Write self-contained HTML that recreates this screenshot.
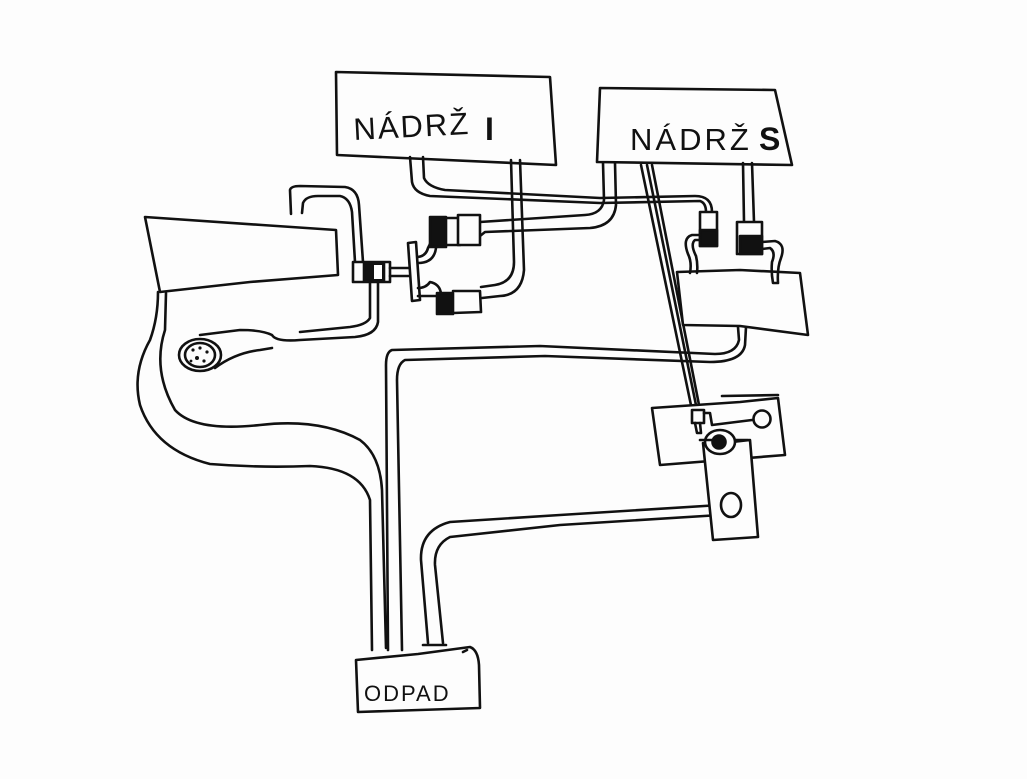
<!DOCTYPE html>
<html><head><meta charset="utf-8"><style>
html,body{margin:0;padding:0;background:#fdfdfd;}
svg{display:block}
text{font-family:"Liberation Sans",sans-serif;fill:#111}
</style></head><body>
<svg width="1027" height="779" viewBox="0 0 1027 779" xmlns="http://www.w3.org/2000/svg">
<rect width="1027" height="779" fill="#fdfdfd"/>
<g fill="none" stroke="#111" stroke-width="2.6" stroke-linecap="round" stroke-linejoin="round">
<path d="M336,72 L550,77 L556,165 L337,155 Z" fill="#fdfdfd"/>
<path d="M600,88 L775,90 L792,165 L597,162 Z" fill="#fdfdfd"/>
<path d="M410,157 L412,182 Q414,193 430,196 L600,203 L700,201 Q706,203 706,212"/>
<path d="M423,157 L424,178 Q428,187 445,190 L600,198 L695,196 Q712,196 712,212"/>
<path d="M603,163 L604,200 Q602,214 585,215 L480,222"/>
<path d="M615,163 L616,205 Q614,226 590,228 L485,232 L480,236"/>
<path d="M511,160 L514,262 Q514,282 495,285 L481,287"/>
<path d="M520,160 L524,270 Q522,295 500,296 L482,298"/>
<path d="M641,165 L692,410"/>
<path d="M647,165 L697,410"/>
<path d="M652,165 L700,410"/>
<path d="M743,163 L744,222"/>
<path d="M752,163 L754,222"/>
<path d="M145,217 L262,225 L336,230 L338,275 L250,282 L160,292 Z" fill="#fdfdfd"/>
<path d="M291,214 L290,190 Q291,186 300,186 L345,187 Q358,189 359,205 L363,262"/>
<path d="M302,213 L303,203 Q306,196 318,196 L340,196 Q350,198 352,212 L355,262"/>
<rect x="353" y="262" width="37" height="20" fill="#fdfdfd"/>
<rect x="364" y="263" width="20" height="18" fill="#111"/>
<rect x="374" y="265" width="8" height="14" fill="#fdfdfd" stroke="none"/>
<path d="M390,268 L412,268 M390,276 L412,276"/>
<path d="M408,243 L416,242 L420,300 L412,301 Z" fill="#fdfdfd"/>
<path d="M418,257 Q426,256 428,248 L431,242 M418,263 Q434,263 436,248"/>
<rect x="430" y="217" width="16" height="30" fill="#111"/>
<path d="M446,218 L460,218 L460,245 L446,245"/>
<rect x="458" y="215" width="22" height="30" fill="#fdfdfd"/>
<path d="M418,288 Q426,288 430,282 Q440,284 441,294 M418,296 L436,296"/>
<rect x="437" y="293" width="16" height="21" fill="#111"/>
<path d="M453,291 L480,291 L481,312 L453,313"/>
<path d="M378,282 L378,322 Q376,335 355,337 L300,340 Q276,342 272,335 Q262,330 240,330 L200,335"/>
<path d="M370,282 L370,318 Q366,325 350,327 L300,332"/>
<path d="M272,348 L260,350 Q235,353 215,368"/>
<ellipse cx="200" cy="355" rx="21" ry="16"/>
<ellipse cx="200" cy="355" rx="15" ry="12"/>
<g fill="#111" stroke="none"><circle cx="193" cy="350" r="1.6"/><circle cx="200" cy="348" r="1.6"/><circle cx="207" cy="352" r="1.6"/><circle cx="197" cy="358" r="2"/><circle cx="204" cy="361" r="1.6"/><circle cx="191" cy="361" r="1.4"/></g>
<path d="M158,292 Q158,318 150,340 Q132,372 140,405 Q155,450 210,464 Q260,468 310,466 Q360,468 370,500 L372,650"/>
<path d="M166,293 L165,330 Q152,370 175,410 Q195,432 260,425 Q320,418 360,440 Q380,455 382,490 L386,648"/>
<path d="M738,327 L739,340 Q736,354 715,354 L540,346 L392,350 Q386,352 386,365 L388,650"/>
<path d="M746,327 L745,345 Q742,362 710,362 L545,356 L405,360 Q397,364 397,380 L402,650"/>
<path d="M720,505 L560,515 L450,522 Q420,530 421,560 L428,643"/>
<path d="M720,515 L560,525 L450,537 Q434,545 435,565 L443,643"/>
<path d="M423,645 L446,645"/>
<path d="M356,660 L418,654 L470,647 Q478,650 479,665 L480,708 L358,712 Z" fill="#fdfdfd"/>
<path d="M463,652 L467,650"/>
<path d="M677,272 L740,270 L800,273 L808,335 L740,326 L683,325 Z" fill="#fdfdfd"/>
<rect x="700" y="212" width="17" height="34" fill="#fdfdfd"/>
<rect x="700" y="230" width="17" height="16" fill="#111"/>
<path d="M700,235 L692,235 Q682,238 688,254 Q692,262 690,273 M700,240 L695,240 Q690,244 696,256 Q698,264 697,273"/>
<rect x="737" y="222" width="25" height="32" fill="#fdfdfd"/>
<rect x="740" y="236" width="22" height="18" fill="#111"/>
<path d="M762,242 L775,241 Q786,244 781,258 Q777,268 778,283 M762,249 L770,248 Q776,252 772,262 Q771,272 773,283 L778,283"/>
<path d="M652,408 L740,402 L778,398 L785,455 L660,465 Z" fill="#fdfdfd"/>
<path d="M722,396 L778,395"/>
<path d="M705,445 L750,440 L758,537 L713,540 L703,443" fill="#fdfdfd"/>
<rect x="692" y="410" width="12" height="13" fill="#fdfdfd"/>
<path d="M695,423 L697,433 L701,433 L700,423"/>
<path d="M704,413 L710,413 L712,425 L752,420"/>
<circle cx="762" cy="419" r="8.5" fill="#fdfdfd"/>
<ellipse cx="720" cy="442" rx="15" ry="12" fill="#fdfdfd"/>
<circle cx="719" cy="442" r="6.5" fill="#111"/>
<path d="M700,440 L712,440 M735,440 L748,440"/>
<ellipse cx="731" cy="505" rx="10" ry="12" fill="#fdfdfd"/>
</g>
<text x="354" y="140" font-size="31" transform="rotate(-3 354 140)" letter-spacing="2">NÁDRŽ</text>
<text x="485" y="140" font-size="32" font-weight="bold">I</text>
<text x="630" y="150" font-size="31" letter-spacing="3">NÁDRŽ</text>
<text x="759" y="150" font-size="32" font-weight="bold">S</text>
<text x="364" y="701" font-size="22" letter-spacing="2">ODPAD</text>
</svg>
</body></html>
